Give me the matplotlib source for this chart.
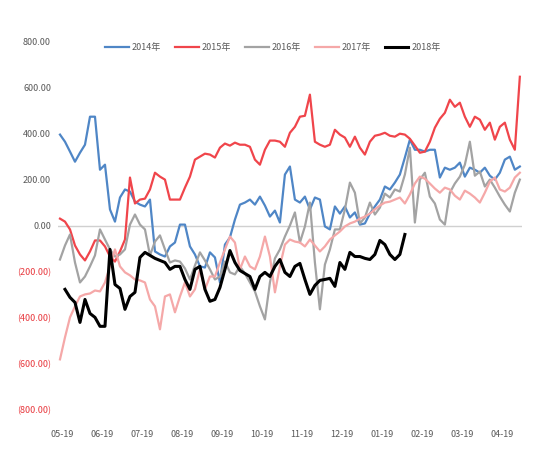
import numpy as np
import matplotlib
matplotlib.use("Agg")
import matplotlib.pyplot as plt
from matplotlib.ticker import FuncFormatter

plt.rcParams['font.family'] = ['Noto Sans CJK SC', 'DejaVu Sans']

months = ["05-19", "06-19", "07-19", "08-19", "09-19", "10-19",
          "11-19", "12-19", "01-19", "02-19", "03-19", "04-19"]
series_names = ["2014年", "2015年", "2016年", "2017年", "2018年"]

# spread values, one reading every ~2 trading days
s2014 = [396, 365, 322, 278, 317, 352, 474, 474, 243, 265, 70, 17, 122, 157, 148, 104,
         91, 83, 113, -113, -126, -135, -91, -74, 4, 4, -91, -126, -178, -183, -117, -139,
         -248, -83, -52, 26, 91, 100, 113, 91, 126, 87, 39, 65, 13, 222, 257, 113,
         100, 126, 70, 122, 113, -4, -17, 83, 52, 83, 35, 57, 4, 9, 52, 83,
         113, 170, 157, 187, 222, 296, 374, 330, 330, 322, 330, 330, 209, 252, 243, 252,
         274, 213, 252, 243, 230, 252, 217, 200, 230, 287, 300, 243, 257]
s2015 = [30, 17, -17, -87, -126, -152, -113, -65, -65, -91, -135, -157, -113, -61, 209, 96,
         113, 117, 157, 230, 213, 200, 113, 113, 113, 165, 213, 287, 300, 313, 309, 296,
         339, 357, 348, 361, 352, 352, 343, 287, 265, 330, 370, 370, 365, 343, 404, 430,
         474, 478, 570, 365, 352, 343, 352, 417, 396, 383, 343, 387, 339, 309, 365, 391,
         396, 404, 391, 387, 400, 396, 378, 348, 317, 322, 365, 426, 465, 491, 548, 517,
         535, 474, 430, 474, 461, 417, 448, 374, 430, 448, 374, 330, 648]
s2016 = [-148, -87, -39, -161, -248, -222, -178, -130, -17, -61, -104, -135, -126, -104, 4, 48,
         4, -17, -130, -70, -43, -104, -161, -152, -157, -187, -235, -174, -117, -152, -191, -235,
         -222, -157, -204, -213, -178, -209, -248, -287, -352, -409, -248, -143, -104, -48, 0, 57,
         -74, -4, 100, -161, -365, -170, -104, -17, -17, 70, 187, 143, 9, 35, 100, 48,
         78, 139, 122, 157, 148, 222, 339, 13, 200, 230, 126, 96, 26, 4, 143, 183,
         213, 265, 365, 217, 235, 170, 200, 165, 126, 91, 61, 143, 200]
s2017 = [-583, -487, -400, -352, -309, -300, -296, -283, -287, -248, -178, -104, -178, -204, -217, -235,
         -239, -248, -322, -352, -452, -309, -300, -378, -309, -248, -309, -278, -191, -278, -222, -222,
         -161, -104, -48, -74, -191, -135, -178, -191, -135, -48, -135, -291, -178, -83, -61, -70,
         -74, -91, -61, -87, -113, -91, -61, -43, -26, -4, 9, 17, 30, 39, 52, 70,
         87, 100, 104, 113, 122, 96, 135, 183, 213, 204, 183, 161, 143, 165, 157, 130,
         113, 152, 139, 122, 100, 143, 191, 209, 157, 148, 165, 209, 230]
s2018 = [-278, -313, -335, -422, -322, -383, -400, -439, -439, -104, -257, -274, -365, -309, -291,
         -139, -117, -130, -143, -152, -161, -191, -178, -178, -235, -278, -191, -178, -278, -330,
         -322, -270, -191, -109, -161, -196, -209, -222, -278, -222, -204, -222, -178, -148, -204,
         -222, -178, -165, -235, -300, -261, -239, -235, -230, -265, -161, -191, -117, -135, -135,
         -143, -148, -126, -65, -83, -126, -148, -126, -39]

all_series = [s2014, s2015, s2016, s2017, s2018]
starts = [0, 0, 0, 0, 1]
colors = ["#4f86c6", "#f0454b", "#a3a3a3", "#f5a8a8", "#000000"]
widths = [1.6, 1.6, 1.6, 1.6, 2.2]

fig = plt.figure(figsize=(5.35, 4.65), dpi=100)
ax = fig.add_axes([0.1084, 0.120, 0.867, 0.790])

ax.axhline(0, color="#d0d0d0", lw=1.0, zorder=1)

for vals, st, c, w, name in zip(all_series, starts, colors, widths, series_names):
    x = np.arange(len(vals)) + st
    ax.plot(x, vals, color=c, lw=w, label=name, zorder=3)

ax.set_ylim(-800, 800)
ax.set_xlim(-0.4, 92.4)
ax.set_yticks(np.arange(-800, 801, 200))
ax.set_xticks(np.arange(len(months)) * 8 + 0.4)
ax.set_xticklabels(months)


def excel_fmt(v, pos):
    if v < 0:
        return "({:,.2f})".format(-v)
    return "{:,.2f}".format(v)


ax.yaxis.set_major_formatter(FuncFormatter(excel_fmt))
ax.tick_params(axis="both", length=0, labelsize=6.5, labelcolor="#595959")
ax.tick_params(axis="y", pad=5)
ax.tick_params(axis="x", pad=15)
for lab, v in zip(ax.get_yticklabels(), ax.get_yticks()):
    if v < 0:
        lab.set_color("#e8383d")

for sp in ax.spines.values():
    sp.set_visible(False)

fig.legend(loc="center", bbox_to_anchor=(0.51, 0.897), ncol=5, frameon=False,
           fontsize=6.5, handlelength=2.6, columnspacing=1.6, handletextpad=0.3,
           labelcolor="#595959")

fig.savefig("out.png", dpi=100)
